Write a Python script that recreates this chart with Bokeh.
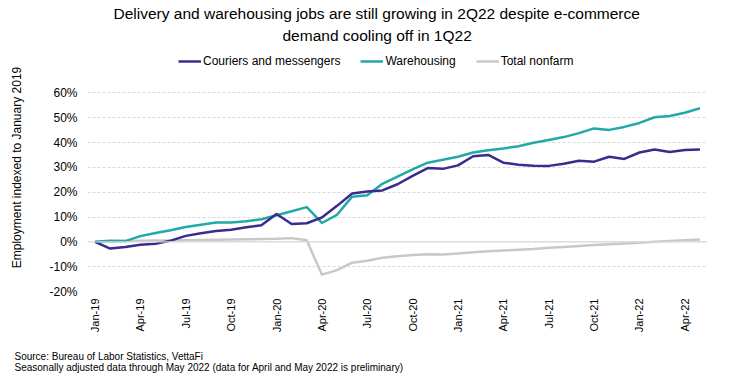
import math
from bokeh.plotting import figure
from bokeh.models import (ColumnDataSource, FixedTicker, Legend, LegendItem, Title,
                          Span, Range1d, NumeralTickFormatter)
from bokeh.embed import file_html
from bokeh.resources import INLINE

# ---------------- data ----------------
months = ["Jan-19", "Feb-19", "Mar-19", "Apr-19", "May-19", "Jun-19", "Jul-19", "Aug-19",
          "Sep-19", "Oct-19", "Nov-19", "Dec-19", "Jan-20", "Feb-20", "Mar-20", "Apr-20",
          "May-20", "Jun-20", "Jul-20", "Aug-20", "Sep-20", "Oct-20", "Nov-20", "Dec-20",
          "Jan-21", "Feb-21", "Mar-21", "Apr-21", "May-21", "Jun-21", "Jul-21", "Aug-21",
          "Sep-21", "Oct-21", "Nov-21", "Dec-21", "Jan-22", "Feb-22", "Mar-22", "Apr-22",
          "May-22"]

couriers = [0, -2.7, -2.1, -1.2, -0.8, 0.5, 2.4, 3.5, 4.4, 4.9, 5.9, 6.7, 11.2, 7.2,
            7.5, 9.8, 14.5, 19.5, 20.3, 20.7, 23.2, 26.6, 29.7, 29.4, 30.8, 34.5, 35.0,
            31.9, 31.1, 30.7, 30.6, 31.5, 32.7, 32.3, 34.3, 33.4, 36.0, 37.2, 36.2, 37.0,
            37.2]

warehousing = [0, 0.4, 0.3, 2.3, 3.6, 4.7, 6.0, 6.9, 7.8, 7.8, 8.3, 9.1, 10.7, 12.3,
               14.0, 7.6, 10.9, 18.2, 18.8, 23.4, 26.3, 29.2, 31.9, 33.1, 34.3, 36.0,
               36.9, 37.6, 38.5, 39.9, 41.0, 42.2, 43.8, 45.7, 45.1, 46.3, 47.9, 50.2,
               50.7, 52.0, 53.8]

total_nonfarm = [0, 0.2, 0.3, 0.4, 0.5, 0.5, 0.6, 0.7, 0.8, 0.9, 1.0, 1.1, 1.2, 1.5,
                 0.6, -13.2, -11.4, -8.4, -7.6, -6.4, -5.8, -5.3, -5.0, -5.1, -4.7,
                 -4.2, -3.8, -3.5, -3.2, -2.9, -2.4, -2.1, -1.7, -1.3, -1.0, -0.7,
                 -0.4, 0.0, 0.3, 0.6, 0.9]

series_names = ["Couriers and messengers", "Warehousing", "Total nonfarm"]
series_colors = ["#3b2b8e", "#22a9a7", "#c8c8c8"]

y_ticks = [-20, -10, 0, 10, 20, 30, 40, 50, 60]
tick_every = 3

title_lines = ["Delivery and warehousing jobs are still growing in 2Q22 despite e-commerce",
               "demand cooling off in 1Q22"]
y_label = "Employment indexed to January 2019"
footer_lines = ["Source: Bureau of Labor Statistics, VettaFi",
                "Seasonally adjusted data through May 2022 (data for April and May 2022 is preliminary)"]

FONT = "Liberation Sans"

# ---------------- layout constants ----------------
FRAME_TOP = 45.0        # frame top (sum of the two title panels)
GRID_TOP = 94.0         # pixel row of the top gridline
FRAME_BOTTOM = 291.0
px_per_unit = (FRAME_BOTTOM - GRID_TOP) / (y_ticks[-1] - y_ticks[0])
y_end = y_ticks[-1] + (GRID_TOP - FRAME_TOP) / px_per_unit

# ---------------- figure ----------------
idx = list(range(len(months)))
source = ColumnDataSource(dict(x=idx, couriers=[v / 100 for v in couriers],
                               warehousing=[v / 100 for v in warehousing],
                               total=[v / 100 for v in total_nonfarm]))

p = figure(width=750, height=390, output_backend="svg", toolbar_location=None,
           x_range=Range1d(-0.5, len(months) - 0.5),
           y_range=Range1d(y_ticks[0] / 100, y_end / 100),
           min_border_left=87, min_border_right=43, min_border_top=0,
           min_border_bottom=99, title=None)
p.outline_line_color = None
p.background_fill_color = "white"
p.border_fill_color = "white"

# grid
p.xgrid.grid_line_color = None
p.ygrid.grid_line_color = "#d9d9d9"
p.ygrid.grid_line_dash = "3 2"
p.ygrid.grid_line_width = 1
p.ygrid.ticker = FixedTicker(ticks=[t / 100 for t in y_ticks])
p.add_layout(Span(location=0, dimension="width", line_color="#d9d9d9", line_width=1.2))

# y axis
yax = p.yaxis[0]
yax.ticker = FixedTicker(ticks=[t / 100 for t in y_ticks])
yax.formatter = NumeralTickFormatter(format="0%")
yax.axis_line_color = None
yax.major_tick_line_color = None
yax.minor_tick_line_color = None
yax.major_tick_out = 0
yax.major_tick_in = 0
yax.major_label_standoff = 10
yax.major_label_text_font = FONT
yax.major_label_text_font_size = "12px"
yax.major_label_text_color = "#000000"
yax.axis_label = y_label
yax.axis_label_text_font = FONT
yax.axis_label_text_font_size = "12px"
yax.axis_label_text_font_style = "normal"
yax.axis_label_text_color = "#000000"
yax.axis_label_standoff = 22

# x axis
x_ticks = idx[::tick_every]
xax = p.xaxis[0]
xax.ticker = FixedTicker(ticks=x_ticks)
xax.major_label_overrides = {i: months[i] for i in x_ticks}
xax.major_label_orientation = math.pi / 2
xax.axis_line_color = None
xax.major_tick_line_color = None
xax.minor_tick_line_color = None
xax.major_tick_out = 0
xax.major_tick_in = 0
xax.major_label_standoff = 7
xax.major_label_text_font = FONT
xax.major_label_text_font_size = "11px"
xax.major_label_text_color = "#000000"

# lines
r_total = p.line("x", "total", source=source, line_color=series_colors[2], line_width=2.5,
                 line_join="round")
r_ware = p.line("x", "warehousing", source=source, line_color=series_colors[1],
                line_width=2.5, line_join="round")
r_cour = p.line("x", "couriers", source=source, line_color=series_colors[0],
                line_width=2.5, line_join="round")

# legend inside the (extended) frame, above the top gridline
legend = Legend(items=[LegendItem(label=series_names[0], renderers=[r_cour]),
                       LegendItem(label=series_names[1], renderers=[r_ware]),
                       LegendItem(label=series_names[2], renderers=[r_total])],
                orientation="horizontal", location=(91, 220), padding=0, margin=0,
                spacing=20, glyph_width=23, glyph_height=20, label_height=20,
                label_standoff=2, border_line_color=None, background_fill_alpha=0,
                label_text_font=FONT, label_text_font_size="12px",
                label_text_color="#000000")
p.add_layout(legend, "center")

# title lines (line 2 added first: it sits next to the frame)
title_offsets = [26, 195]
title_standoffs = [5, 0]
for txt, off, so in zip(reversed(title_lines), reversed(title_offsets),
                        reversed(title_standoffs)):
    p.add_layout(Title(text=txt, align="left", offset=off, standoff=so,
                       vertical_align="bottom", text_font=FONT, text_font_size="15.5px",
                       text_font_style="normal", text_color="#000000"), "above")

# footer (below the x axis)
p.add_layout(Title(text="\n".join(footer_lines), align="left", offset=-73, standoff=26,
                   vertical_align="bottom", text_font=FONT, text_font_size="10px",
                   text_font_style="normal", text_color="#000000",
                   text_line_height=1.0), "below")

open("out.html", "w").write(file_html(p, INLINE))
